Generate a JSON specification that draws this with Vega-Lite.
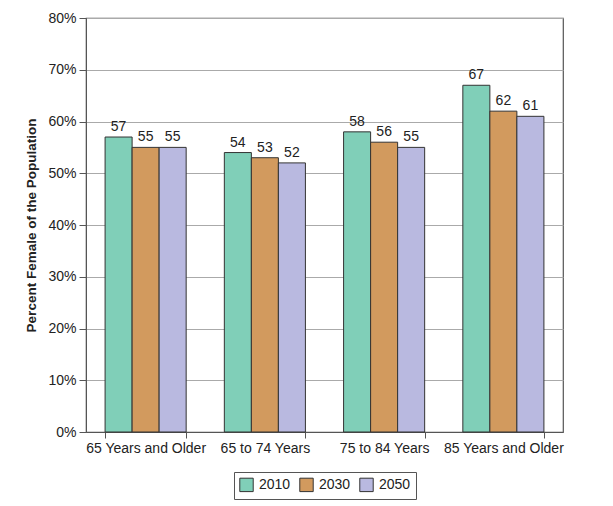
{
  "$schema": "https://vega.github.io/schema/vega-lite/v6.json",
  "autosize": "none",
  "width": 477,
  "height": 414,
  "padding": {"left": 86, "top": 18, "right": 50, "bottom": 74},
  "background": "white",
  "title": {
    "text": "for the United States: 2010, 2030, and 2050",
    "anchor": "start",
    "frame": "group",
    "baseline": "alphabetic",
    "offset": 15,
    "dx": -59,
    "fontSize": 16,
    "fontWeight": "bold",
    "font": "Liberation Sans",
    "color": "#333333"
  },
  "config": {
    "font": "Liberation Sans",
    "view": {"stroke": "#555555", "strokeWidth": 1.2},
    "axis": {
      "labelFont": "Liberation Sans",
      "labelFontSize": 14,
      "labelColor": "#222222",
      "domainColor": "#555555",
      "tickColor": "#555555",
      "titleFont": "Liberation Sans"
    }
  },
  "data": {
    "values": [
      {"age": "65 Years and Older", "year": "2010", "pct": 57},
      {"age": "65 Years and Older", "year": "2030", "pct": 55},
      {"age": "65 Years and Older", "year": "2050", "pct": 55},
      {"age": "65 to 74 Years", "year": "2010", "pct": 54},
      {"age": "65 to 74 Years", "year": "2030", "pct": 53},
      {"age": "65 to 74 Years", "year": "2050", "pct": 52},
      {"age": "75 to 84 Years", "year": "2010", "pct": 58},
      {"age": "75 to 84 Years", "year": "2030", "pct": 56},
      {"age": "75 to 84 Years", "year": "2050", "pct": 55},
      {"age": "85 Years and Older", "year": "2010", "pct": 67},
      {"age": "85 Years and Older", "year": "2030", "pct": 62},
      {"age": "85 Years and Older", "year": "2050", "pct": 61}
    ]
  },
  "encoding": {
    "x": {
      "field": "age",
      "type": "nominal",
      "sort": null,
      "scale": {"paddingInner": 0.32, "paddingOuter": 0.16},
      "axis": {
        "title": null,
        "labelAngle": 0,
        "tickBand": "extent",
        "tickSize": 6,
        "labelPadding": 3,
        "grid": false
      }
    },
    "xOffset": {"field": "year", "type": "nominal"},
    "y": {
      "field": "pct",
      "type": "quantitative",
      "scale": {"domain": [0, 80], "nice": false},
      "axis": {
        "title": "Percent Female of the Population",
        "titleFontSize": 13.5,
        "titleFontWeight": "bold",
        "titleColor": "#222222",
        "titlePadding": 9,
        "values": [0, 10, 20, 30, 40, 50, 60, 70, 80],
        "labelExpr": "datum.value + '%'",
        "tickSize": 7,
        "labelPadding": 3,
        "grid": true,
        "gridColor": "#aaaaaa",
        "gridWidth": 1
      }
    }
  },
  "layer": [
    {
      "mark": {"type": "bar", "stroke": "#333333", "strokeWidth": 1},
      "encoding": {
        "color": {
          "field": "year",
          "type": "nominal",
          "scale": {"domain": ["2010", "2030", "2050"], "range": ["#80cfb8", "#d29a5e", "#b9b9e0"]},
          "legend": {
            "title": null,
            "orient": "none",
            "legendX": 148,
            "legendY": 454,
            "direction": "horizontal",
            "symbolType": "square",
            "symbolSize": 180,
            "symbolStrokeColor": "#333333",
            "symbolStrokeWidth": 1,
            "symbolOpacity": 1,
            "labelFontSize": 14,
            "labelColor": "#222222",
            "labelOffset": 5,
            "columnPadding": 6,
            "strokeColor": "#555555",
            "padding": 5
          }
        }
      }
    },
    {
      "mark": {"type": "text", "baseline": "bottom", "dy": -3, "fontSize": 14, "color": "#222222"},
      "encoding": {"text": {"field": "pct", "type": "quantitative"}}
    }
  ]
}
